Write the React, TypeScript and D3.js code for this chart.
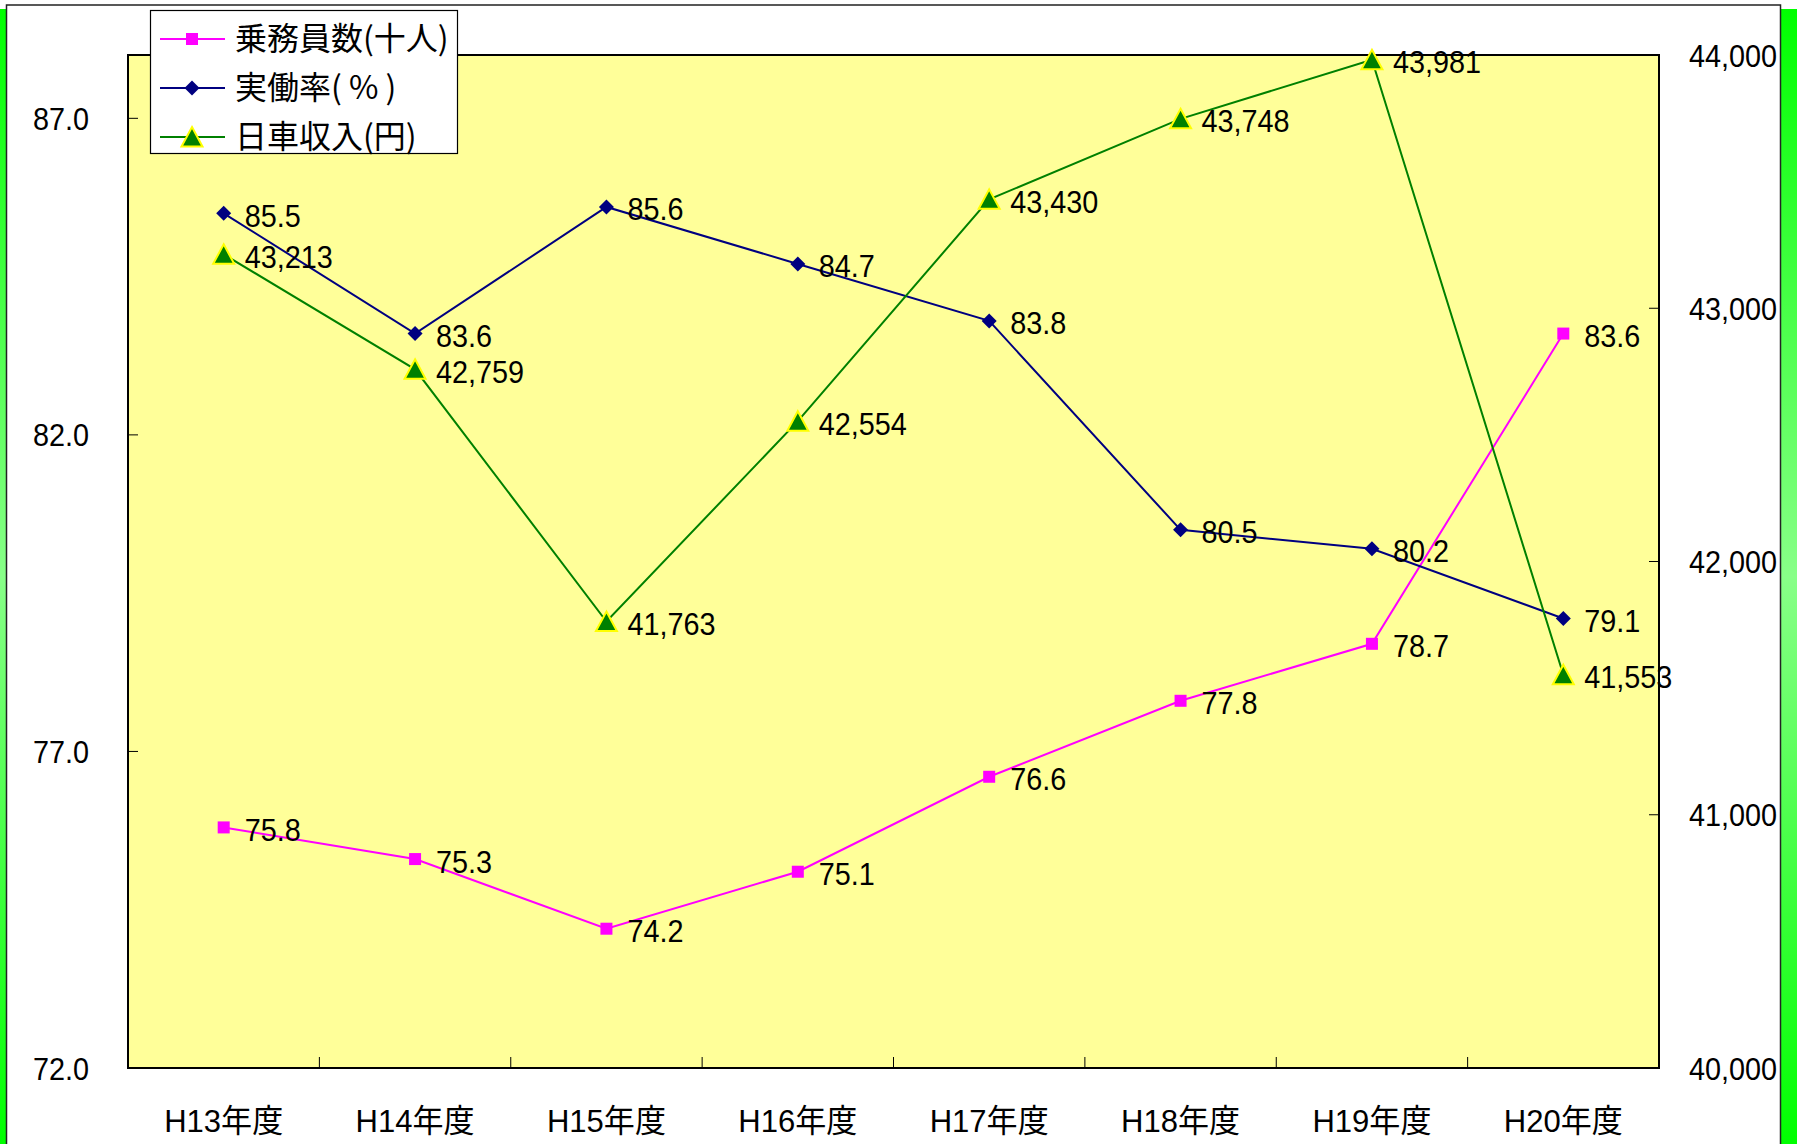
import React from "react";
import * as d3 from "d3";

const categories = ["H13年度", "H14年度", "H15年度", "H16年度", "H17年度", "H18年度", "H19年度", "H20年度"];
const crewCount = [75.8, 75.3, 74.2, 75.1, 76.6, 77.8, 78.7, 83.6];
const utilization = [85.5, 83.6, 85.6, 84.7, 83.8, 80.5, 80.2, 79.1];
const dailyRevenue = [43213, 42759, 41763, 42554, 43430, 43748, 43981, 41553];
const leftTicks = [72, 77, 82, 87];
const rightTicks = [40000, 41000, 42000, 43000, 44000];
const legendLabels = ["乗務員数(十人)", "実働率( % )", "日車収入(円)"];

const W = 1797;
const H = 1144;
const plot = { left: 128, right: 1659, top: 55, bottom: 1068 };
const NUM_FONT = "'Liberation Sans', Arial, 'Noto Sans CJK JP', sans-serif";
const CJK_FONT = "'Noto Sans CJK JP', sans-serif";
const SX = 0.9;

function NText({ x, y, anchor = "start", children, size = 32, sx = SX, family = NUM_FONT }: any) {
  return (
    <text
      transform={`translate(${x},${y}) scale(${sx},1)`}
      textAnchor={anchor}
      fontFamily={family}
      fontSize={size}
      fill="#000"
    >
      {children}
    </text>
  );
}

export default function App() {
  const x = d3.scaleBand<string>().domain(categories).range([plot.left, plot.right]).padding(0);
  const bw = x.bandwidth();
  const cx = (c: string) => (x(c) as number) + bw / 2;
  const yL = d3.scaleLinear().domain([72, 88]).range([plot.bottom, plot.top]);
  const yR = d3.scaleLinear().domain([40000, 44000]).range([plot.bottom, plot.top]);
  const fmt1 = d3.format(".1f");
  const fmtC = d3.format(",");

  const lineL = d3.line<number>().x((_, i) => cx(categories[i])).y((d) => yL(d));
  const lineR = d3.line<number>().x((_, i) => cx(categories[i])).y((d) => yR(d));

  const square = (px: number, py: number, k: string) => (
    <rect key={k} x={px - 6} y={py - 6} width={12} height={12} fill="#FF00FF" />
  );
  const diamond = (px: number, py: number, k: string) => (
    <path key={k} d={`M${px},${py - 7.5}L${px + 7.5},${py}L${px},${py + 7.5}L${px - 7.5},${py}Z`} fill="#000080" />
  );
  const tri = (px: number, py: number, k: string) => (
    <path
      key={k}
      d={`M${px},${py - 10}L${px + 10.5},${py + 9.5}L${px - 10.5},${py + 9.5}Z`}
      fill="#008000"
      stroke="#FFFF00"
      strokeWidth={2}
    />
  );

  const boundaries = categories.slice(1).map((c) => x(c) as number);

  return (
    <svg
      width={W}
      height={H}
      style={{ position: "absolute", left: 0, top: 0, display: "block" }}
    >
      <defs>
        <linearGradient id="gbar" x1="0" y1="0" x2="0" y2="1">
          <stop offset="0%" stopColor="#00FF00" />
          <stop offset="50%" stopColor="#88FF88" />
          <stop offset="100%" stopColor="#00FF00" />
        </linearGradient>
      </defs>
      <rect x={0} y={0} width={W} height={H} fill="#fff" />
      <rect x={0} y={9} width={7} height={H - 9} fill="url(#gbar)" />
      <rect x={1781} y={9} width={16} height={H - 9} fill="url(#gbar)" />
      <rect x={6.5} y={5} width={1774} height={H} fill="#fff" stroke="#222" strokeWidth={1.5} />

      {/* plot area */}
      <rect
        x={plot.left}
        y={plot.top}
        width={plot.right - plot.left}
        height={plot.bottom - plot.top}
        fill="#FFFF99"
        stroke="#000"
        strokeWidth={2}
      />

      {/* ticks */}
      {leftTicks.map((t) => (
        <line key={"lt" + t} x1={plot.left} x2={plot.left + 10} y1={yL(t)} y2={yL(t)} stroke="#000" strokeWidth={1} />
      ))}
      {rightTicks.map((t) => (
        <line key={"rt" + t} x1={plot.right - 10} x2={plot.right} y1={yR(t)} y2={yR(t)} stroke="#000" strokeWidth={1} />
      ))}
      {boundaries.map((b, i) => (
        <line key={"bt" + i} x1={b} x2={b} y1={plot.bottom} y2={plot.bottom - 11} stroke="#000" strokeWidth={1} />
      ))}

      {/* axis labels */}
      {leftTicks.map((t) => (
        <NText key={"ll" + t} x={89} y={yL(t) + 11.5} anchor="end">
          {fmt1(t)}
        </NText>
      ))}
      {rightTicks.map((t) => (
        <NText key={"rl" + t} x={1777} y={yR(t) + 11.5} anchor="end">
          {fmtC(t)}
        </NText>
      ))}
      {categories.map((c) => (
        <NText key={"xl" + c} x={cx(c)} y={1132} anchor="middle" sx={0.97}>
          {c}
        </NText>
      ))}

      {/* series lines */}
      <path d={lineL(crewCount) as string} fill="none" stroke="#FF00FF" strokeWidth={2} />
      <path d={lineL(utilization) as string} fill="none" stroke="#000080" strokeWidth={2} />
      <path d={lineR(dailyRevenue) as string} fill="none" stroke="#008000" strokeWidth={2} />

      {crewCount.map((v, i) => square(cx(categories[i]), yL(v), "sq" + i))}
      {utilization.map((v, i) => diamond(cx(categories[i]), yL(v), "dm" + i))}
      {dailyRevenue.map((v, i) => tri(cx(categories[i]), yR(v), "tr" + i))}

      {/* data labels */}
      {crewCount.map((v, i) => (
        <NText key={"cl" + i} x={cx(categories[i]) + 21} y={yL(v) + 13.5}>
          {fmt1(v)}
        </NText>
      ))}
      {utilization.map((v, i) => (
        <NText key={"ul" + i} x={cx(categories[i]) + 21} y={yL(v) + 13.5}>
          {fmt1(v)}
        </NText>
      ))}
      {dailyRevenue.map((v, i) => (
        <NText key={"dl" + i} x={cx(categories[i]) + 21} y={yR(v) + 13.5}>
          {fmtC(v)}
        </NText>
      ))}

      {/* legend */}
      <rect x={150.5} y={10.5} width={307} height={143} fill="#fff" stroke="#000" strokeWidth={1.2} />
      {legendLabels.map((lab, i) => {
        const ly = 39 + i * 49;
        const colors = ["#FF00FF", "#000080", "#008000"];
        return (
          <g key={"lg" + i}>
            <line x1={160} x2={225} y1={ly} y2={ly} stroke={colors[i]} strokeWidth={2} />
            {i === 0 && square(192, ly, "lgm0")}
            {i === 1 && diamond(192, ly, "lgm1")}
            {i === 2 && tri(192, ly, "lgm2")}
            <text x={235} y={ly + 11} fontFamily={CJK_FONT} fontSize={32} fill="#000" style={{ whiteSpace: "pre" }}>
              {lab}
            </text>
          </g>
        );
      })}
    </svg>
  );
}
